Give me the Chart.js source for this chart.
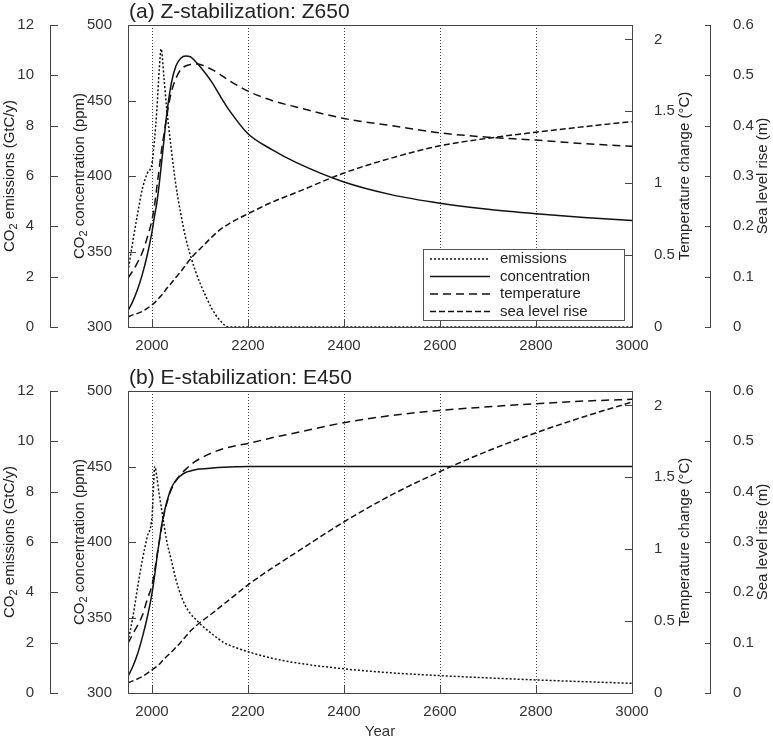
<!DOCTYPE html>
<html>
<head>
<meta charset="utf-8">
<script src="https://cdn.jsdelivr.net/npm/chart.js@4/dist/chart.umd.min.js"></script>
<style>
  body { margin: 0; background: #fff; }
  canvas { display: block; }
</style>
</head>
<body>
<canvas id="panelA" width="773" height="366"></canvas>
<canvas id="panelB" width="773" height="375"></canvas>
<script>
// tick labels
const yearTicks = [2000, 2200, 2400, 2600, 2800, 3000];
const emissionTicks = [0, 2, 4, 6, 8, 10, 12];
const concTicks = [300, 350, 400, 450, 500];
const tempTicks = [0, 0.5, 1, 1.5, 2];
const seaTicks = [0, 0.1, 0.2, 0.3, 0.4, 0.5, 0.6];

// (a) Z-stabilization: Z650
const yearsA = [1950, 1960, 1970, 1980, 1990, 2000, 2005, 2010, 2015, 2019, 2025, 2030, 2040, 2050, 2060, 2070, 2080, 2090, 2100, 2125, 2140, 2160, 2200, 2250, 2300, 2400, 2500, 2600, 2700, 2800, 2900, 3000];
const emissionsA = [2.2, 3.4, 4.5, 5.5, 6.1, 6.5, 7.4, 8.6, 10.2, 11.05, 9.9, 8.8, 7.1, 5.6, 4.5, 3.55, 2.85, 2.25, 1.75, 0.72, 0.3, 0, 0, 0, 0, 0, 0, 0, 0, 0, 0, 0];
const concA = [310.8, 317, 325, 335, 347.5, 363, 373, 382, 394.5, 406, 424, 439, 461, 473, 478, 479.5, 479, 476, 472.5, 462, 454, 444, 428, 417.5, 409, 396, 387.5, 382, 378, 375, 372.5, 370.5];
const tempA = [0.34, 0.39, 0.45, 0.52, 0.62, 0.745, 0.84, 0.97, 1.10, 1.21, 1.34, 1.45, 1.63, 1.73, 1.79, 1.815, 1.826, 1.83, 1.826, 1.79, 1.76, 1.715, 1.64, 1.575, 1.53, 1.45, 1.40, 1.35, 1.32, 1.30, 1.275, 1.256];
const seaA = [0.02, 0.024, 0.027, 0.031, 0.037, 0.044, 0.048, 0.053, 0.058, 0.062, 0.069, 0.076, 0.087, 0.099, 0.110, 0.123, 0.135, 0.146, 0.155, 0.179, 0.192, 0.205, 0.225, 0.248, 0.267, 0.306, 0.336, 0.360, 0.375, 0.387, 0.398, 0.408];

// (b) E-stabilization: E450
const yearsB = [1950, 1960, 1970, 1980, 1990, 2000, 2006, 2010, 2015, 2020, 2025, 2030, 2040, 2050, 2060, 2070, 2080, 2090, 2100, 2125, 2150, 2175, 2200, 2250, 2300, 2400, 2500, 2600, 2700, 2800, 2900, 3000];
const emissionsB = [2.04, 3.0, 4.2, 5.3, 6.2, 7.0, 9.0, 8.6, 7.9, 7.3, 6.7, 6.1, 5.3, 4.5, 3.9, 3.45, 3.15, 2.95, 2.75, 2.35, 2.0, 1.8, 1.64, 1.38, 1.2, 0.96, 0.8, 0.69, 0.6, 0.52, 0.45, 0.385];
const concB = [311, 317.5, 326, 337, 350, 366, 379, 389, 400, 411, 419, 425.5, 435.5, 441, 444, 446, 447, 447.8, 448.3, 449, 449.5, 449.8, 450, 450, 450, 450, 450, 450, 450, 450, 450, 450];
const tempB = [0.345, 0.41, 0.47, 0.54, 0.65, 0.75, 0.86, 0.95, 1.05, 1.15, 1.24, 1.31, 1.415, 1.475, 1.52, 1.555, 1.585, 1.61, 1.63, 1.67, 1.70, 1.72, 1.735, 1.775, 1.81, 1.88, 1.93, 1.965, 1.99, 2.012, 2.03, 2.042];
const seaB = [0.02, 0.024, 0.028, 0.033, 0.039, 0.046, 0.05, 0.053, 0.057, 0.062, 0.067, 0.072, 0.081, 0.091, 0.101, 0.112, 0.123, 0.132, 0.14, 0.158, 0.177, 0.196, 0.215, 0.248, 0.279, 0.340, 0.394, 0.440, 0.481, 0.517, 0.549, 0.578];

const FONT = '"Liberation Sans", Arial, sans-serif';
const ink = '#222';
const frameInk = '#444';

function rotatedTitle(ctx, x, y, parts) {
    ctx.save();
    ctx.translate(x, y);
    ctx.rotate(-Math.PI / 2);
    ctx.textBaseline = 'middle';
    ctx.textAlign = 'left';
    ctx.fillStyle = ink;
    let w = 0;
    parts.forEach(([t, sub]) => { ctx.font = (sub ? '11px ' : '15px ') + FONT; w += ctx.measureText(t).width; });
    let cx = -w / 2;
    parts.forEach(([t, sub]) => {
        ctx.font = (sub ? '11px ' : '15px ') + FONT;
        ctx.fillText(t, cx, sub ? 4 : 0);
        cx += ctx.measureText(t).width;
    });
    ctx.restore();
}

const decor = {
    id: 'decor',
    afterDraw(chart, args, opts) {
        const ctx = chart.ctx;
        const a = chart.chartArea;
        const s = chart.scales;
        const line = (x1, y1, x2, y2) => { ctx.beginPath(); ctx.moveTo(x1, y1); ctx.lineTo(x2, y2); ctx.stroke(); };
        ctx.save();
        ctx.strokeStyle = frameInk;
        ctx.lineWidth = 1;
        ctx.strokeRect(a.left + 0.5, a.top + 0.5, a.right - a.left, a.bottom - a.top);

        // inward tick marks
        emissionTicks.forEach(v => { const y = Math.round(s.yE.getPixelForValue(v)) + 0.5; line(s.yE.right, y, s.yE.right + 8, y); });
        concTicks.forEach(v => { const y = Math.round(s.yC.getPixelForValue(v)) + 0.5; line(a.left, y, a.left + 8, y); });
        tempTicks.forEach(v => { const y = Math.round(s.yT.getPixelForValue(v)) + 0.5; line(a.right, y, a.right - 7, y); });
        seaTicks.forEach(v => { const y = Math.round(s.yS.getPixelForValue(v)) + 0.5; line(s.yS.left, y, s.yS.left - 5, y); });
        yearTicks.forEach(v => { const x = Math.round(s.x.getPixelForValue(v)) + 0.5; line(x, a.bottom, x, a.bottom - 7); });

        // axis titles
        const cy = (a.top + a.bottom) / 2;
        rotatedTitle(ctx, s.yE.left + 10, cy, [['CO'], ['2', true], [' emissions (GtC/y)']]);
        rotatedTitle(ctx, s.yC.left + 30, cy, [['CO'], ['2', true], [' concentration (ppm)']]);
        rotatedTitle(ctx, s.yT.right - 25, cy, [['Temperature change (°C)']]);
        rotatedTitle(ctx, s.yS.right - 10, cy, [['Sea level rise (m)']]);

        // panel title
        ctx.fillStyle = ink;
        ctx.font = '21px ' + FONT;
        ctx.textBaseline = 'middle';
        ctx.textAlign = 'left';
        ctx.fillText(opts.title, a.left + 1, 12);

        if (opts.legend) {
            const w = 201, h = 71;
            const lx = a.right - 8 - w, ly = a.bottom - 7 - h;
            ctx.fillStyle = '#fff';
            ctx.fillRect(lx, ly, w, h);
            ctx.strokeStyle = '#555';
            ctx.strokeRect(lx + 0.5, ly + 0.5, w, h);
            chart.data.datasets.forEach((ds, i) => {
                const y = ly + 10 + i * 17.5;
                ctx.strokeStyle = '#111';
                ctx.lineWidth = 1.5;
                ctx.setLineDash(ds.borderDash);
                line(lx + 7, y, lx + 67, y);
                ctx.setLineDash([]);
                ctx.fillStyle = ink;
                ctx.font = '15px ' + FONT;
                ctx.fillText(ds.label, lx + 77, y);
            });
        }
        ctx.restore();
    }
};

function series(label, years, values, axis, dash) {
    return {
        label: label,
        data: years.map((x, i) => ({ x: x, y: values[i] })),
        yAxisID: axis,
        borderColor: '#111',
        borderWidth: 1.5,
        borderDash: dash,
        pointRadius: 0,
        fill: false,
        cubicInterpolationMode: 'monotone'
    };
}

function yAxis(pos, min, max, weight, width, tickList, pad, showBorder) {
    return {
        type: 'linear',
        position: pos,
        min: min,
        max: max,
        weight: weight,
        afterBuildTicks: s => { s.ticks = tickList.map(v => ({ value: v })); },
        afterFit: s => { s.width = width; },
        grid: { display: false },
        border: { display: showBorder, color: frameInk, width: 1 },
        ticks: {
            padding: pad,
            color: '#333',
            autoSkip: false,
            font: { family: FONT, size: 15 },
            callback: v => String(v)
        }
    };
}

function makePanel(id, title, years, emis, conc, temp, sea, showLegend, showYear) {
    const ctx = document.getElementById(id).getContext('2d');
    return new Chart(ctx, {
        type: 'line',
        data: {
            datasets: [
                series('emissions', years, emis, 'yE', [2, 2]),
                series('concentration', years, conc, 'yC', []),
                series('temperature', years, temp, 'yT', [8, 5]),
                series('sea level rise', years, sea, 'yS', [6, 3])
            ]
        },
        options: {
            responsive: false,
            maintainAspectRatio: false,
            devicePixelRatio: 1,
            animation: false,
            layout: { padding: { top: 25, left: 0, right: 0, bottom: 0 } },
            plugins: {
                legend: { display: false },
                tooltip: { enabled: false },
                decor: { title: title, legend: showLegend }
            },
            scales: {
                x: {
                    type: 'linear',
                    position: 'bottom',
                    min: 1950,
                    max: 3000,
                    afterBuildTicks: s => { s.ticks = yearTicks.map(v => ({ value: v })); },
                    afterFit: s => { s.height = showYear ? 48 : 39; },
                    grid: { display: true, drawOnChartArea: true, drawTicks: false, color: '#444', lineWidth: 1 },
                    border: { display: false, dash: [1, 2] },
                    ticks: {
                        padding: 10,
                        color: '#333',
                        autoSkip: false,
                        maxRotation: 0,
                        font: { family: FONT, size: 15 },
                        callback: v => String(v)
                    },
                    title: { display: showYear, text: 'Year', color: '#333', font: { family: FONT, size: 15 }, padding: 0 }
                },
                yE: yAxis('left', 0, 12, 2, 50, emissionTicks, 8, true),
                yC: yAxis('left', 300, 500, 1, 78, concTicks, 8, false),
                yT: yAxis('right', 0, 2.1, 1, 78, tempTicks, 14, false),
                yS: yAxis('right', 0, 0.6, 2, 63, seaTicks, 15, true)
            }
        },
        plugins: [decor]
    });
}

makePanel('panelA', '(a) Z-stabilization: Z650', yearsA, emissionsA, concA, tempA, seaA, true, false);
makePanel('panelB', '(b) E-stabilization: E450', yearsB, emissionsB, concB, tempB, seaB, false, true);
</script>
</body>
</html>
